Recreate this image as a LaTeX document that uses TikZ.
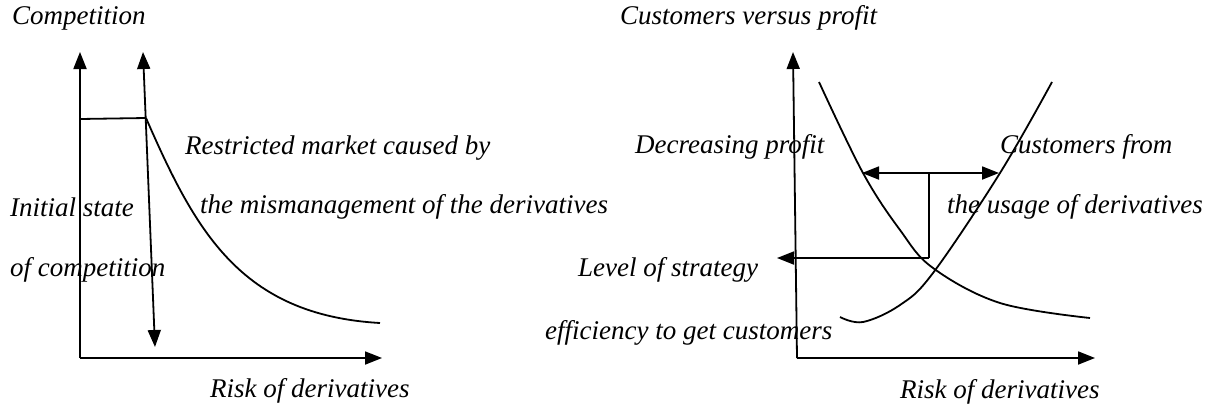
\documentclass[tikz,border=0pt]{standalone}
\usepackage{fontspec}
\setmainfont{Liberation Serif}
\usetikzlibrary{arrows.meta}
\begin{document}
\begin{tikzpicture}[x=1pt,y=-1pt,
  lbl/.style={font=\fontsize{27}{30}\selectfont\itshape, inner sep=0pt, anchor=west},
  ln/.style={line width=1.8pt},
  arr/.style={ln, -{Triangle[length=17pt,width=13pt]}},
  darr/.style={ln, {Triangle[length=17pt,width=13pt]}-{Triangle[length=17pt,width=13pt]}}]
\useasboundingbox (0,0) rectangle (1209,410);
% ---------- left chart ----------
\coordinate (O1) at (80,358);
\coordinate (Y1) at (80,52);
\coordinate (X1) at (382,358);
\coordinate (Vt) at (143,52);
\coordinate (Vb) at (155,347);
\coordinate (H0) at (80,119);
\coordinate (H1) at (146,118);
\coordinate (C1) at (380,323);
\draw[arr] (O1) -- (Y1);
\draw[arr] (O1) -- (X1);
\draw[darr] (Vt) -- (Vb);
\draw[ln] (H0) -- (H1);
\draw[ln] (H1) .. controls (195,230) and (240,315) .. (C1);
\node[lbl] (t1) at (12,18) {Competition};
\node[lbl] (t2) at (185,148) {Restricted market caused by};
\node[lbl] (t3) at (10,207) {Initial state};
\node[lbl] (t4) at (200,207) {the mismanagement of the derivatives};
\node[lbl] (t5) at (10,270) {of competition};
\node[lbl] (t6) at (210,391) {Risk of derivatives};
% ---------- right chart ----------
\coordinate (O2) at (797,358);
\coordinate (Y2) at (793,52);
\coordinate (X2) at (1095,358);
\draw[arr] (O2) -- (Y2);
\draw[arr] (O2) -- (X2);
\draw[ln] plot[smooth, tension=0.6] coordinates {(819,82) (863,173) (900,230) (933,268) (1000,303) (1090,318)};
\draw[ln] plot[smooth, tension=0.6] coordinates {(840,317) (863,322) (900,305) (933,273) (1000,173) (1052,82)};
\coordinate (M) at (929,173);
\coordinate (Ml) at (862,173);
\coordinate (Mr) at (999,173);
\coordinate (N) at (929,258);
\coordinate (Nl) at (777,258);
\draw[arr] (M) -- (Ml);
\draw[arr] (M) -- (Mr);
\draw[ln] (M) -- (N);
\draw[arr] (N) -- (Nl);
\node[lbl] (r1) at (620,18) {Customers versus profit};
\node[lbl] (r2) at (635,147) {Decreasing profit};
\node[lbl] (r3) at (1000,147) {Customers from};
\node[lbl] (r4) at (947,207) {the usage of derivatives};
\node[lbl] (r5) at (578,270) {Level of strategy};
\node[lbl] (r6) at (545,333) {efficiency to get customers};
\node[lbl] (r7) at (900,392) {Risk of derivatives};
\end{tikzpicture}
\end{document}
